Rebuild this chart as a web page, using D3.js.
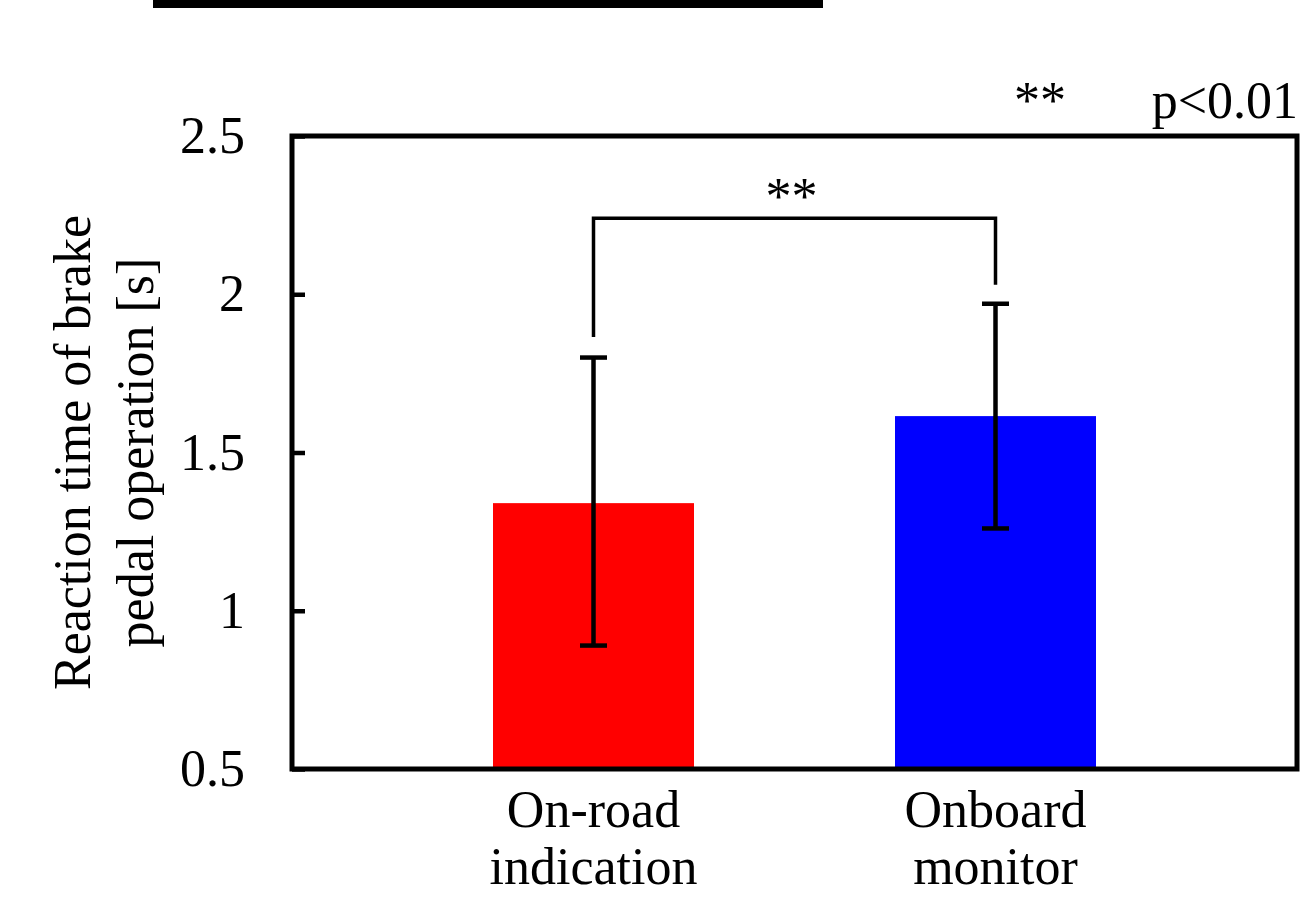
<!DOCTYPE html>
<html>
<head>
<meta charset="utf-8">
<script src="https://cdn.jsdelivr.net/npm/d3@7"></script>
<style>
  html, body { margin: 0; padding: 0; background: #fff; }
  svg { display: block; }
  text { font-family: "Liberation Serif", "Times New Roman", serif; fill: #000; }
</style>
</head>
<body>
<svg id="chart" width="1303" height="897"></svg>
<script>
// ---- data ----
const categories = ["On-road\nindication", "Onboard\nmonitor"];
const means = [1.34, 1.615];
const errLow = [0.89, 1.26];
const errHigh = [1.80, 1.97];
const barColors = ["#ff0000", "#0000ff"];
const yTicks = [0.5, 1, 1.5, 2, 2.5];
const yTickLabels = ["0.5", "1", "1.5", "2", "2.5"];
const yTitleLines = ["Reaction time of brake", "pedal operation [s]"];
// significance bracket: [top value, left leg end, right leg end]
const bracketValues = [2.24, 1.865, 2.03];
const sigLabel = "**";
const legendLabels = ["**", "p<0.01"];

// ---- layout ----
const svg = d3.select("#chart");
const X0 = 292, X1 = 1297, Y0 = 136, Y1 = 769;
const FS = 52;

const y = d3.scaleLinear().domain([0.5, 2.5]).range([Y1, Y0]);
const x = d3.scaleBand().domain(categories).range([X0, X1]).paddingInner(0.5).paddingOuter(0.5);

// top black strip (cropped element from page)
svg.append("rect").attr("x", 153).attr("y", 0).attr("width", 670).attr("height", 8).attr("fill", "#000");

// bars
svg.selectAll("rect.bar").data(categories).enter().append("rect")
  .attr("class", "bar")
  .attr("x", d => x(d))
  .attr("width", x.bandwidth())
  .attr("y", (d, i) => y(means[i]))
  .attr("height", (d, i) => y(0.5) - y(means[i]))
  .attr("fill", (d, i) => barColors[i]);

// error bars
const capW = 27;
const eg = svg.append("g").attr("stroke", "#000").attr("stroke-width", 4.5);
categories.forEach((c, i) => {
  const cx = x(c) + x.bandwidth() / 2;
  eg.append("line").attr("x1", cx).attr("x2", cx).attr("y1", y(errLow[i])).attr("y2", y(errHigh[i]));
  eg.append("line").attr("x1", cx - capW / 2).attr("x2", cx + capW / 2).attr("y1", y(errLow[i])).attr("y2", y(errLow[i]));
  eg.append("line").attr("x1", cx - capW / 2).attr("x2", cx + capW / 2).attr("y1", y(errHigh[i])).attr("y2", y(errHigh[i]));
});

// frame
svg.append("rect").attr("x", X0).attr("y", Y0).attr("width", X1 - X0).attr("height", Y1 - Y0)
  .attr("fill", "none").attr("stroke", "#000").attr("stroke-width", 5);

// y axis (inward ticks)
const yAxis = d3.axisRight(y).tickValues(yTicks).tickSize(13).tickFormat("");
const ya = svg.append("g").attr("transform", `translate(${X0},0)`).call(yAxis);
ya.select(".domain").remove();
ya.selectAll(".tick line").attr("stroke", "#000").attr("stroke-width", 4.5);

// y tick labels
svg.selectAll("text.ytl").data(yTicks).enter().append("text")
  .attr("class", "ytl")
  .attr("x", 245)
  .attr("y", d => y(d) + 17)
  .attr("text-anchor", "end")
  .attr("font-size", FS)
  .text((d, i) => yTickLabels[i]);

// y title
const titleX = [90, 153];
yTitleLines.forEach((t, i) => {
  svg.append("text")
    .attr("transform", `translate(${titleX[i]},${(Y0 + Y1) / 2}) rotate(-90)`)
    .attr("text-anchor", "middle")
    .attr("font-size", FS)
    .text(t);
});

// x labels
categories.forEach(c => {
  const cx = x(c) + x.bandwidth() / 2;
  c.split("\n").forEach((line, j) => {
    svg.append("text")
      .attr("x", cx).attr("y", 827 + j * 57)
      .attr("text-anchor", "middle")
      .attr("font-size", FS)
      .text(line);
  });
});

// significance bracket
const lx = x(categories[0]) + x.bandwidth() / 2;
const rx = x(categories[1]) + x.bandwidth() / 2;
svg.append("path")
  .attr("d", `M${lx},${y(bracketValues[1])}V${y(bracketValues[0])}H${rx}V${y(bracketValues[2])}`)
  .attr("fill", "none").attr("stroke", "#000").attr("stroke-width", 3.5);
svg.append("text")
  .attr("x", (lx + rx) / 2 - 3).attr("y", y(bracketValues[0]) - 4)
  .attr("text-anchor", "middle").attr("font-size", FS)
  .text(sigLabel);

// legend note
svg.append("text").attr("x", 1040).attr("y", 118).attr("text-anchor", "middle").attr("font-size", FS).text(legendLabels[0]);
svg.append("text").attr("x", 1298).attr("y", 118).attr("text-anchor", "end").attr("font-size", FS).text(legendLabels[1]);
</script>
</body>
</html>
